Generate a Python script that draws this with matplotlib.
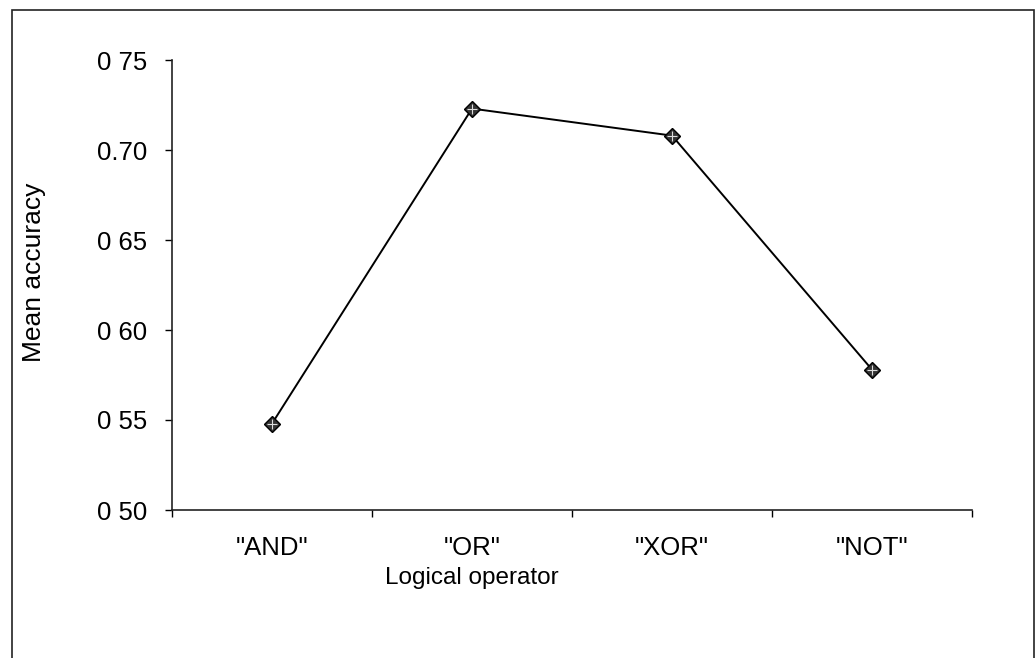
import matplotlib
matplotlib.use("Agg")
import matplotlib.pyplot as plt
from matplotlib.patches import Rectangle

categories = ['"AND"', '"OR"', '"XOR"', '"NOT"']
accuracy = [0.548, 0.723, 0.708, 0.578]
ytick_values = [0.50, 0.55, 0.60, 0.65, 0.70, 0.75]
ytick_labels = ["0 50", "0 55", "0 60", "0 65", "0.70", "0 75"]

plt.rcParams['font.family'] = ['Liberation Sans', 'DejaVu Sans']

W, H = 1036, 658
fig = plt.figure(figsize=(W / 100, H / 100), dpi=100)
fig.patch.set_facecolor('white')

# outer frame
fig.patches.append(Rectangle((12 / W, -0.05), (1034 - 12) / W, 1.05 - 10 / H,
                             transform=fig.transFigure, fill=False,
                             edgecolor='#222222', linewidth=1.2))

ax = fig.add_axes([172 / W, 1 - 510 / H, 800 / W, 450 / H])
x = list(range(len(categories)))
ax.plot(x, accuracy, color='black', linewidth=1.4, marker='D', markersize=8,
        markerfacecolor='#333333', markeredgecolor='black', markeredgewidth=1)
ax.plot(x, accuracy, linestyle='none', marker='+', markersize=7,
        markeredgecolor='#dddddd', markeredgewidth=0.8)

ax.set_xlim(-0.5, len(categories) - 0.5)
ax.set_ylim(0.50, 0.75)
ax.set_yticks(ytick_values)
ax.set_yticklabels(ytick_labels, fontsize=18.5)
ax.set_xticks(x)
ax.set_xticklabels(categories, fontsize=18.5)
ax.tick_params(axis='x', length=0, pad=19)
ax.set_xticks([i - 0.5 for i in range(len(categories) + 1)], minor=True)
ax.tick_params(axis='x', which='minor', length=5, direction='out', width=1)
ax.tick_params(axis='y', length=5, direction='out', width=1, pad=13)

for s in ['top', 'right']:
    ax.spines[s].set_visible(False)
for s in ['left', 'bottom']:
    ax.spines[s].set_linewidth(1.2)
    ax.spines[s].set_color('#222222')

ax.set_xlabel('Logical operator', fontsize=17.5, va='center')
ax.xaxis.set_label_coords((472 - 172) / 800, (510 - 578) / 450)
ax.set_ylabel('Mean accuracy', fontsize=19, va='center')
ax.yaxis.set_label_coords((34 - 172) / 800, (510 - 272) / 450)

fig.savefig('out.png', dpi=100)
